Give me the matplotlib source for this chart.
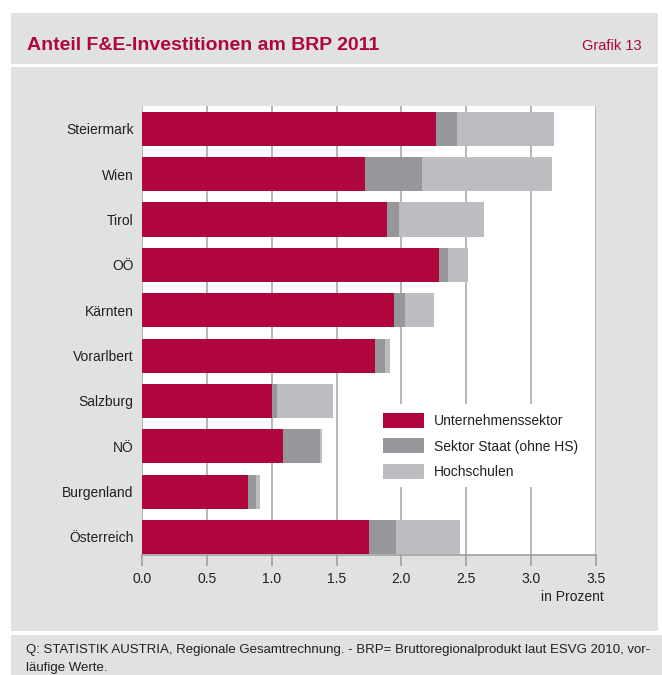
import matplotlib
matplotlib.use("Agg")
import matplotlib.pyplot as plt
from matplotlib.patches import Rectangle
import numpy as np

categories = ["Steiermark", "Wien", "Tirol", "OÖ", "Kärnten", "Vorarlbert",
              "Salzburg", "NÖ", "Burgenland", "Österreich"]
unternehmen = [2.27, 1.72, 1.89, 2.29, 1.94, 1.80, 1.00, 1.09, 0.82, 1.75]
staat = [0.16, 0.44, 0.09, 0.07, 0.09, 0.07, 0.04, 0.28, 0.06, 0.21]
hochschulen = [0.75, 1.00, 0.66, 0.15, 0.22, 0.04, 0.43, 0.02, 0.03, 0.49]
series_labels = ["Unternehmenssektor", "Sektor Staat (ohne HS)", "Hochschulen"]
xticks = [0.0, 0.5, 1.0, 1.5, 2.0, 2.5, 3.0, 3.5]

RED = "#AF063E"
DGRAY = "#96979B"
LGRAY = "#BCBDC1"
PANEL = "#E0E1E3"
TXT = "#231F20"

plt.rcParams['font.family'] = ['Liberation Sans', 'DejaVu Sans']

W, H = 662, 675
fig = plt.figure(figsize=(W / 100, H / 100), dpi=100)
fig.patch.set_facecolor("white")

def px_rect(x0, y0, x1, y1, color):
    fig.add_artist(Rectangle((x0 / W, 1 - y1 / H), (x1 - x0) / W, (y1 - y0) / H,
                             transform=fig.transFigure, facecolor=color,
                             edgecolor="none", zorder=0))

px_rect(11, 13, 658, 64, PANEL)
px_rect(11, 67, 658, 631, PANEL)
px_rect(11, 635, 662, 675, PANEL)

fig.text(27 / W, 1 - 50 / H, "Anteil F&E-Investitionen am BRP 2011",
         weight='bold', fontsize=14, color=RED, va='baseline', ha='left')
fig.text(642 / W, 1 - 50 / H, "Grafik 13",
         fontsize=10.5, color=RED, va='baseline', ha='right')

fig.text(26 / W, 1 - 650 / H,
         "Q: STATISTIK AUSTRIA, Regionale Gesamtrechnung. - BRP= Bruttoregionalprodukt laut ESVG 2010, vor-",
         fontsize=9.5, color=TXT, va='center', ha='left')
fig.text(26 / W, 1 - 668 / H, "läufige Werte.",
         fontsize=9.5, color=TXT, va='center', ha='left')

ax_left, ax_right, ax_top, ax_bottom = 142, 596, 105.7, 555
ax = fig.add_axes([ax_left / W, 1 - ax_bottom / H, (ax_right - ax_left) / W,
                   (ax_bottom - ax_top) / H])
ax.set_facecolor("white")

y = np.arange(len(categories))
u = np.array(unternehmen)
s = np.array(staat)
h = np.array(hochschulen)
bh = 0.75
ax.barh(y, u, height=bh, color=RED, label=series_labels[0], zorder=3)
ax.barh(y, s, left=u, height=bh, color=DGRAY, label=series_labels[1], zorder=3)
ax.barh(y, h, left=u + s, height=bh, color=LGRAY, label=series_labels[2], zorder=3)

ax.set_xlim(0, 3.5)
ax.set_ylim(9.40, -0.51)
ax.set_yticks(y)
ax.set_yticklabels(categories, fontsize=10, color=TXT)
ax.tick_params(axis='y', length=0, pad=6)
ax.set_xticks(xticks)
ax.set_xticklabels([f"{t:.1f}" for t in xticks], fontsize=10, color=TXT)
ax.tick_params(axis='x', length=8, width=1.2, color="#A0A0A0", pad=4)

for sp in ["top", "right", "left"]:
    ax.spines[sp].set_visible(False)
ax.spines["bottom"].set_color("#A0A0A0")
ax.spines["bottom"].set_linewidth(1.2)

ax.set_axisbelow(True)
ax.xaxis.grid(True, color="#A7A9AC", linewidth=1.2, zorder=0)

fig.text(604 / W, 1 - 597 / H, "in Prozent", fontsize=10, color=TXT,
         ha='right', va='center')

leg = ax.legend(loc='upper left', bbox_to_anchor=(0.513, 0.335), borderaxespad=0,
                frameon=True, facecolor='white', edgecolor='none', framealpha=1,
                fancybox=False, fontsize=10, handlelength=2.95, handleheight=1.3,
                labelspacing=0.76, handletextpad=0.72, borderpad=0.58)
for t in leg.get_texts():
    t.set_color(TXT)

fig.savefig("out.png", dpi=100, facecolor=fig.get_facecolor())
